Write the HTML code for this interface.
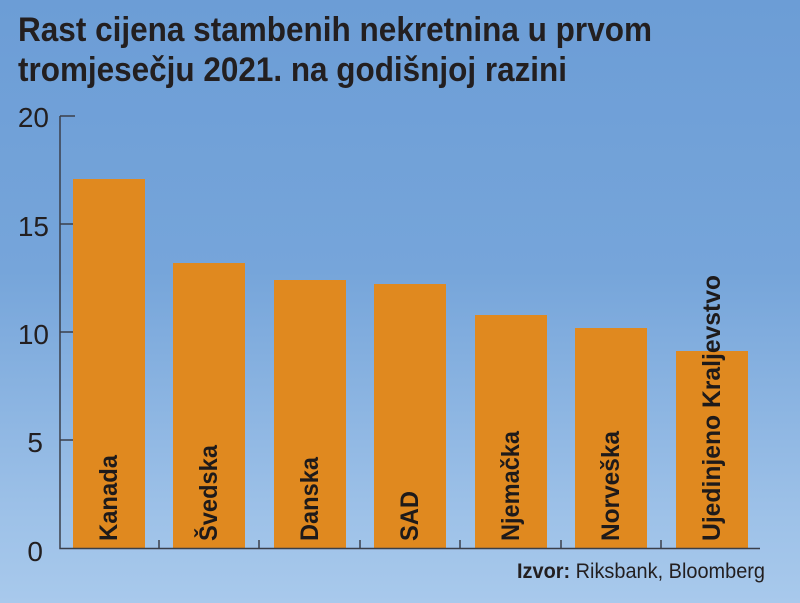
<!DOCTYPE html>
<html><head><meta charset="utf-8"><style>
html,body{margin:0;padding:0}
body{width:800px;height:603px;overflow:hidden;background:linear-gradient(180deg,#6c9dd6 0%,#76a5da 45%,#9dc1e8 85%,#a8c9ec 100%);}
svg{display:block}
</style></head><body>
<svg width="800" height="603" viewBox="0 0 800 603" xmlns="http://www.w3.org/2000/svg" font-family="'Liberation Sans', sans-serif">
<text x="18" y="41" font-size="34" font-weight="bold" fill="#231f20" textLength="634" lengthAdjust="spacingAndGlyphs">Rast cijena stambenih nekretnina u prvom</text>
<text x="18" y="81" font-size="34" font-weight="bold" fill="#231f20" textLength="549" lengthAdjust="spacingAndGlyphs">tromjesečju 2021. na godišnjoj razini</text>
<g fill="#e0891f">
<rect x="73" y="179" width="72" height="369"/>
<rect x="173" y="263" width="72" height="285"/>
<rect x="274" y="280" width="72" height="268"/>
<rect x="374" y="284" width="72" height="264"/>
<rect x="475" y="315" width="72" height="233"/>
<rect x="575" y="328" width="72" height="220"/>
<rect x="676" y="351" width="72" height="197"/>
</g>
<g stroke="#3a3f4a" stroke-width="1.5" fill="none">
<path d="M60 116 V548.5 H760"/>
<path d="M60 116 H75 M60 224 H73 M60 332 H73 M60 440 H73"/>
<path d="M159 548 V540 M259 548 V540 M360 548 V540 M460 548 V540 M561 548 V540 M661 548 V540"/>
</g>
<g font-size="28" fill="#231f20" text-anchor="end">
<text x="49" y="127">20</text>
<text x="49" y="236">15</text>
<text x="49" y="344">10</text>
<text x="43" y="452">5</text>
<text x="43" y="561">0</text>
</g>
<g font-size="25" font-weight="bold" fill="#1e1a1a">
<text transform="translate(117,541) rotate(-90)" textLength="86" lengthAdjust="spacingAndGlyphs">Kanada</text>
<text transform="translate(217,541) rotate(-90)" textLength="96" lengthAdjust="spacingAndGlyphs">Švedska</text>
<text transform="translate(318,541) rotate(-90)" textLength="84" lengthAdjust="spacingAndGlyphs">Danska</text>
<text transform="translate(418,541) rotate(-90)" textLength="50" lengthAdjust="spacingAndGlyphs">SAD</text>
<text transform="translate(519,541) rotate(-90)" textLength="110" lengthAdjust="spacingAndGlyphs">Njemačka</text>
<text transform="translate(619,541) rotate(-90)" textLength="110" lengthAdjust="spacingAndGlyphs">Norveška</text>
<text transform="translate(720,541) rotate(-90)" textLength="266" lengthAdjust="spacingAndGlyphs">Ujedinjeno Kraljevstvo</text>
</g>
<text x="517" y="578" font-size="21" fill="#231f20" textLength="248" lengthAdjust="spacingAndGlyphs"><tspan font-weight="bold">Izvor:</tspan> Riksbank, Bloomberg</text>
</svg>
</body></html>
